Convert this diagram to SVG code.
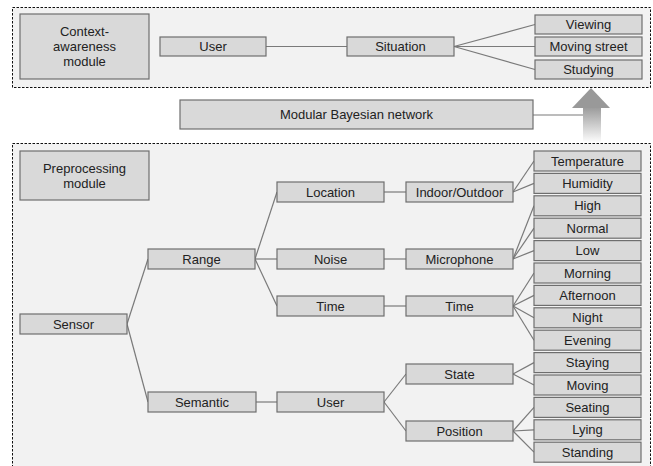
<svg xmlns="http://www.w3.org/2000/svg" width="653" height="466" viewBox="0 0 653 466">
<style>
.panel{fill:#f2f2f2;stroke:#111;stroke-width:1;stroke-dasharray:2.5,1.5}
.box{fill:#d9d9d9;stroke:#6e6e6e;stroke-width:1.2}
.t{font-family:"Liberation Sans",Arial,sans-serif;font-size:13px;fill:#222;text-anchor:middle;dominant-baseline:central}
.ln{stroke:#7a7a7a;stroke-width:1.2;fill:none}
</style>
<defs>
<linearGradient id="shaft" x1="0" y1="0" x2="0" y2="1">
<stop offset="0" stop-color="#9a9a9a"/>
<stop offset="1" stop-color="#ffffff"/>
</linearGradient>
</defs>
<rect width="653" height="466" fill="#fff"/>
<rect class="panel" x="12.5" y="7.5" width="638" height="80"/>
<rect class="panel" x="12.5" y="143.5" width="638" height="330"/>

<g id="connectors">
<line class="ln" x1="266" y1="46.5" x2="347" y2="46.5"/>
<line class="ln" x1="454" y1="46.5" x2="535" y2="24.5"/>
<line class="ln" x1="454" y1="46.5" x2="535" y2="46.5"/>
<line class="ln" x1="454" y1="46.5" x2="535" y2="69.5"/>
<line class="ln" x1="533" y1="115" x2="583" y2="115"/>
<line class="ln" x1="127" y1="324" x2="148" y2="259"/>
<line class="ln" x1="127" y1="324" x2="148" y2="402"/>
<line class="ln" x1="255" y1="259" x2="277" y2="192"/>
<line class="ln" x1="255" y1="259" x2="277" y2="259"/>
<line class="ln" x1="255" y1="259" x2="277" y2="306"/>
<line class="ln" x1="384" y1="192" x2="406" y2="192"/>
<line class="ln" x1="384" y1="259" x2="406" y2="259"/>
<line class="ln" x1="384" y1="306" x2="406" y2="306"/>
<line class="ln" x1="513" y1="192" x2="534" y2="161"/>
<line class="ln" x1="513" y1="192" x2="534" y2="183.4"/>
<line class="ln" x1="513" y1="259" x2="534" y2="205.8"/>
<line class="ln" x1="513" y1="259" x2="534" y2="228.2"/>
<line class="ln" x1="513" y1="259" x2="534" y2="250.6"/>
<line class="ln" x1="513" y1="306" x2="534" y2="273"/>
<line class="ln" x1="513" y1="306" x2="534" y2="295.4"/>
<line class="ln" x1="513" y1="306" x2="534" y2="317.8"/>
<line class="ln" x1="513" y1="306" x2="534" y2="340.2"/>
<line class="ln" x1="256" y1="402" x2="277" y2="402"/>
<line class="ln" x1="384" y1="402" x2="406" y2="374"/>
<line class="ln" x1="384" y1="402" x2="406" y2="431"/>
<line class="ln" x1="513" y1="374" x2="534" y2="362.6"/>
<line class="ln" x1="513" y1="374" x2="534" y2="385"/>
<line class="ln" x1="513" y1="431" x2="534" y2="407.4"/>
<line class="ln" x1="513" y1="431" x2="534" y2="429.8"/>
<line class="ln" x1="513" y1="431" x2="534" y2="452.2"/>
</g>

<g id="arrow">
<rect x="583" y="107" width="18" height="36" fill="url(#shaft)"/>
<polygon points="572,108 591,88 610,108" fill="#999"/>
</g>

<g id="context-module"><rect class="box" x="20" y="14" width="129" height="65"/><text class="t" x="84.5" y="31">Context-</text><text class="t" x="84.5" y="46">awareness</text><text class="t" x="84.5" y="61">module</text></g>
<g id="user-top"><rect class="box" x="160" y="37" width="106" height="19"/><text class="t" x="213" y="46.5">User</text></g>
<g id="situation"><rect class="box" x="347" y="37" width="107" height="19"/><text class="t" x="400.5" y="46.5">Situation</text></g>
<g id="viewing"><rect class="box" x="535" y="15" width="107" height="19"/><text class="t" x="588.5" y="24.5">Viewing</text></g>
<g id="moving-street"><rect class="box" x="535" y="37" width="107" height="19"/><text class="t" x="588.5" y="46.5">Moving street</text></g>
<g id="studying"><rect class="box" x="535" y="60" width="107" height="19"/><text class="t" x="588.5" y="69.5">Studying</text></g>
<g id="mbn"><rect class="box" x="180" y="100" width="353" height="29"/><text class="t" x="356.5" y="114.5">Modular Bayesian network</text></g>

<g id="preprocessing-module"><rect class="box" x="20" y="151" width="129" height="49"/><text class="t" x="84.5" y="168">Preprocessing</text><text class="t" x="84.5" y="183">module</text></g>
<g id="sensor"><rect class="box" x="20" y="314" width="107" height="20"/><text class="t" x="73.5" y="324">Sensor</text></g>
<g id="range"><rect class="box" x="148" y="249" width="107" height="20"/><text class="t" x="201.5" y="259">Range</text></g>
<g id="semantic"><rect class="box" x="148" y="392" width="108" height="20"/><text class="t" x="202" y="402">Semantic</text></g>
<g id="location"><rect class="box" x="277" y="182" width="107" height="20"/><text class="t" x="330.5" y="192">Location</text></g>
<g id="noise"><rect class="box" x="277" y="249" width="107" height="20"/><text class="t" x="330.5" y="259">Noise</text></g>
<g id="time1"><rect class="box" x="277" y="296" width="107" height="20"/><text class="t" x="330.5" y="306">Time</text></g>
<g id="user-bottom"><rect class="box" x="277" y="392" width="107" height="20"/><text class="t" x="330.5" y="402">User</text></g>
<g id="indoor-outdoor"><rect class="box" x="406" y="182" width="107" height="20"/><text class="t" x="459.5" y="192">Indoor/Outdoor</text></g>
<g id="microphone"><rect class="box" x="406" y="249" width="107" height="20"/><text class="t" x="459.5" y="259">Microphone</text></g>
<g id="time2"><rect class="box" x="406" y="296" width="107" height="20"/><text class="t" x="459.5" y="306">Time</text></g>
<g id="state"><rect class="box" x="406" y="364" width="107" height="20"/><text class="t" x="459.5" y="374">State</text></g>
<g id="position"><rect class="box" x="406" y="421" width="107" height="20"/><text class="t" x="459.5" y="431">Position</text></g>

<g id="temperature"><rect class="box" x="534" y="151" width="107" height="20"/><text class="t" x="587.5" y="161">Temperature</text></g>
<g id="humidity"><rect class="box" x="534" y="173.4" width="107" height="20"/><text class="t" x="587.5" y="183.4">Humidity</text></g>
<g id="high"><rect class="box" x="534" y="195.8" width="107" height="20"/><text class="t" x="587.5" y="205.8">High</text></g>
<g id="normal"><rect class="box" x="534" y="218.2" width="107" height="20"/><text class="t" x="587.5" y="228.2">Normal</text></g>
<g id="low"><rect class="box" x="534" y="240.6" width="107" height="20"/><text class="t" x="587.5" y="250.6">Low</text></g>
<g id="morning"><rect class="box" x="534" y="263" width="107" height="20"/><text class="t" x="587.5" y="273">Morning</text></g>
<g id="afternoon"><rect class="box" x="534" y="285.4" width="107" height="20"/><text class="t" x="587.5" y="295.4">Afternoon</text></g>
<g id="night"><rect class="box" x="534" y="307.8" width="107" height="20"/><text class="t" x="587.5" y="317.8">Night</text></g>
<g id="evening"><rect class="box" x="534" y="330.2" width="107" height="20"/><text class="t" x="587.5" y="340.2">Evening</text></g>
<g id="staying"><rect class="box" x="534" y="352.6" width="107" height="20"/><text class="t" x="587.5" y="362.6">Staying</text></g>
<g id="moving"><rect class="box" x="534" y="375" width="107" height="20"/><text class="t" x="587.5" y="385">Moving</text></g>
<g id="seating"><rect class="box" x="534" y="397.4" width="107" height="20"/><text class="t" x="587.5" y="407.4">Seating</text></g>
<g id="lying"><rect class="box" x="534" y="419.8" width="107" height="20"/><text class="t" x="587.5" y="429.8">Lying</text></g>
<g id="standing"><rect class="box" x="534" y="442.2" width="107" height="20"/><text class="t" x="587.5" y="452.2">Standing</text></g>
</svg>
